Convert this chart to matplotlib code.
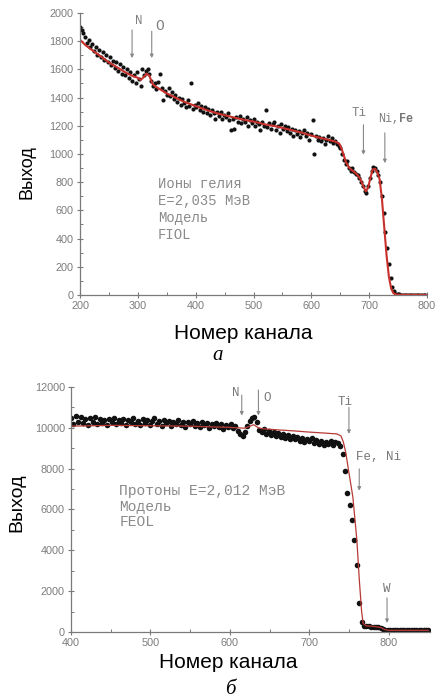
import matplotlib.pyplot as plt
import numpy as np
from matplotlib.ticker import AutoMinorLocator

plt.rcParams.update({'font.family': ['Liberation Sans', 'DejaVu Sans']})

# ---- panel a: helium ions ----
chan_a = np.arange(200, 800, 3)
yield_a = [
    1900, 1880, 1860, 1830, 1790, 1810, 1760, 1780, 1730, 1760,
    1700, 1740, 1690, 1720, 1670, 1700, 1650, 1690, 1630, 1660,
    1610, 1650, 1590, 1640, 1570, 1620, 1560, 1600, 1540, 1580,
    1520, 1560, 1500, 1580, 1530, 1480, 1600, 1560, 1590, 1600,
    1570, 1520, 1480, 1500, 1460, 1510, 1570, 1470, 1380, 1450,
    1420, 1470, 1410, 1440, 1390, 1420, 1370, 1400, 1350, 1390,
    1360, 1330, 1380, 1340, 1500, 1320, 1350, 1330, 1360, 1310,
    1340, 1300, 1330, 1290, 1320, 1280, 1310, 1290, 1250, 1300,
    1270, 1300, 1250, 1280, 1260, 1290, 1240, 1170, 1250, 1180,
    1260, 1230, 1270, 1220, 1250, 1230, 1260, 1200, 1240, 1220,
    1250, 1200, 1230, 1210, 1170, 1230, 1200, 1310, 1190, 1220,
    1180, 1210, 1230, 1170, 1200, 1150, 1210, 1180, 1200, 1160,
    1190, 1150, 1180, 1130, 1170, 1140, 1160, 1120, 1150, 1170,
    1130, 1150, 1100, 1140, 1240, 1000, 1130, 1100, 1120, 1090,
    1110, 1070, 1100, 1130, 1090, 1110, 1080, 1090, 1070, 1060,
    1040, 1000, 960, 930, 950, 900, 880, 900, 870, 860,
    850, 830, 800, 770, 740, 720, 770, 830, 880, 910,
    900, 880, 850, 800, 700, 580, 450, 330, 220, 120,
    60, 25, 10, 5, 4, 3, 3, 2, 2, 2,
    2, 2, 2, 2, 2, 2, 2, 2, 2, 2,
]
model_x_a = [200, 210, 220, 230, 240, 250, 260, 270, 280, 290, 300, 305, 310,
             315, 320, 325, 330, 340, 350, 360, 370, 380, 390, 400, 420, 440,
             460, 480, 500, 520, 540, 560, 580, 600, 620, 640, 648, 652, 656,
             660, 665, 670, 675, 680, 685, 690, 694, 698, 702, 706, 710, 714,
             718, 722, 726, 730, 734, 738, 742, 746, 750, 760, 800]
model_y_a = [1810, 1770, 1740, 1710, 1680, 1650, 1625, 1600, 1575, 1555, 1540,
             1525, 1545, 1570, 1555, 1500, 1480, 1455, 1430, 1410, 1390, 1370,
             1355, 1340, 1310, 1285, 1265, 1245, 1230, 1210, 1195, 1175, 1155,
             1130, 1110, 1090, 1075, 1040, 990, 940, 905, 885, 870, 850, 820,
             770, 735, 760, 830, 890, 895, 870, 820, 680, 480, 280, 130, 45,
             12, 4, 2, 1, 0]

# ---- panel b: protons ----
chan_b = np.arange(400, 851, 3)
yield_b = [
    10500, 10200, 10600, 10300, 10550, 10250, 10450, 10150, 10500, 10300,
    10550, 10200, 10450, 10250, 10400, 10150, 10450, 10300, 10500, 10200,
    10400, 10250, 10450, 10150, 10400, 10300, 10500, 10200, 10350, 10150,
    10450, 10250, 10400, 10150, 10350, 10500, 10200, 10350, 10100, 10400,
    10250, 10350, 10100, 10300, 10200, 10400, 10150, 10300, 10050, 10300,
    10200, 10350, 10100, 10250, 10050, 10300, 10150, 10250, 10000, 10200,
    10100, 10250, 10050, 10200, 9950, 10150, 10050, 10200, 10000, 10100,
    9850, 9700, 9600, 9800, 10100, 10350, 10500, 10550, 10300, 9900,
    9800, 9950, 9700, 9850, 9650, 9800, 9600, 9750, 9550, 9700,
    9500, 9650, 9450, 9600, 9450, 9550, 9350, 9500, 9300, 9450,
    9350, 9500, 9250, 9400, 9200, 9350, 9150, 9300, 9200, 9350,
    9150, 9300, 9250, 9100, 8700, 7900, 6800, 6200, 5500, 4500,
    3300, 1400, 500, 300, 280, 270, 260, 250, 240, 220,
    200, 150, 110, 90, 80, 80, 80, 80, 80, 80,
    80, 80, 80, 80, 80, 80, 80, 80, 80, 80,
    80,
]
model_x_b = [400, 450, 500, 550, 600, 610, 618, 624, 630, 636, 640, 660, 680,
             700, 720, 735, 740, 743, 746, 750, 755, 760, 763, 766, 768, 772,
             780, 790, 795, 800, 850]
model_y_b = [10080, 10120, 10100, 10080, 10020, 10000, 9980, 10060, 10150,
             10000, 9960, 9900, 9850, 9790, 9740, 9700, 9600, 9300, 8800, 7800,
             6600, 4500, 2600, 1000, 410, 300, 280, 220, 120, 80, 80]

GREY = '#7a7a7a'
MONO = 'Liberation Mono'
LBL = '#808080'


def style_axes(ax):
    for s in ['top', 'right']:
        ax.spines[s].set_visible(False)
    for s in ['left', 'bottom']:
        ax.spines[s].set_color(GREY)
        ax.spines[s].set_linewidth(0.9)
    ax.xaxis.set_minor_locator(AutoMinorLocator(2))
    ax.yaxis.set_minor_locator(AutoMinorLocator(2))
    ax.tick_params(which='major', direction='inout', length=5, width=0.8,
                   color=GREY, labelcolor='#7c7c7c', labelsize=7.8, pad=2)
    ax.tick_params(which='minor', direction='in', length=2.5, width=0.7,
                   color=GREY)


def arrow(ax, x, y0, y1):
    ax.annotate('', xy=(x, y1), xytext=(x, y0),
                arrowprops=dict(arrowstyle='-|>', color='#888888', lw=0.8,
                                mutation_scale=5, shrinkA=0, shrinkB=0))


fig = plt.figure(figsize=(4.36, 6.99), dpi=100)

# panel a
ax1 = fig.add_axes([0.1835, 0.578, 0.796, 0.4034])
ax1.plot(chan_a, yield_a, 'o', color='#111111', ms=3.0, mew=0)
ax1.plot(model_x_a, model_y_a, color='#c8302c', lw=1.5)
ax1.set_xlim(200, 800)
ax1.set_ylim(0, 2000)
ax1.set_xticks(range(200, 801, 100))
ax1.set_yticks(range(0, 2001, 200))
style_axes(ax1)

arrow(ax1, 290, 1880, 1680)
arrow(ax1, 324, 1870, 1680)
ax1.text(302, 1945, 'N', family=MONO, color=LBL, fontsize=9,
         ha='center', va='center')
ax1.text(338, 1905, 'O', family=MONO, color=LBL, fontsize=10.5,
         ha='center', va='center')
arrow(ax1, 690, 1207, 994)
arrow(ax1, 727, 1150, 935)
ax1.text(683, 1290, 'Ti', family=MONO, color=LBL, fontsize=9,
         ha='center', va='center')
ax1.text(716, 1247, 'Ni,', family=MONO, color=LBL, fontsize=8.5,
         ha='left', va='center')
ax1.text(752, 1247, 'Fe', family=MONO, color='#777777', fontsize=8.5,
         ha='left', va='center', weight='bold')
ax1.text(335, 840, 'Ионы гелия\nE=2,035 МэВ\nМодель\nFIOL', family=MONO,
         color='#8a8a8a', fontsize=10, ha='left', va='top', linespacing=1.3)

fig.text(27 / 436, 1 - 172 / 699, 'Выход', rotation=90, fontsize=13,
         ha='center', va='center')
fig.text(243 / 436, 1 - 333 / 699, 'Номер канала', fontsize=15,
         ha='center', va='center')
fig.text(218 / 436, 1 - 355 / 699, 'а', family='Liberation Serif',
         style='italic', fontsize=15, ha='center', va='center')

# panel b
ax2 = fig.add_axes([0.163, 0.0959, 0.823, 0.3505])
ax2.plot(chan_b, yield_b, 'o', color='#111111', ms=4.0, mew=0)
ax2.plot(model_x_b, model_y_b, color='#b83a36', lw=0.9)
ax2.set_xlim(400, 852)
ax2.set_ylim(0, 12000)
ax2.set_xticks(range(400, 801, 100))
ax2.set_yticks(range(0, 12001, 2000))
style_axes(ax2)

arrow(ax2, 615, 11600, 10600)
arrow(ax2, 636, 11850, 10600)
ax2.text(607, 11700, 'N', family=MONO, color='#777777', fontsize=9,
         ha='center', va='center')
ax2.text(647, 11450, 'O', family=MONO, color='#777777', fontsize=9,
         ha='center', va='center')
arrow(ax2, 750, 11000, 9700)
ax2.text(745, 11260, 'Ti', family=MONO, color='#777777', fontsize=9,
         ha='center', va='center')
arrow(ax2, 763, 7990, 6920)
ax2.text(759, 8560, 'Fe, Ni', family=MONO, color='#777777', fontsize=9,
         ha='left', va='center')
arrow(ax2, 798, 1670, 440)
ax2.text(798, 2080, 'W', family=MONO, color='#777777', fontsize=9,
         ha='center', va='center')
ax2.text(461, 7250, 'Протоны E=2,012 МэВ\nМодель\nFEOL', family=MONO,
         color='#8a8a8a', fontsize=10.5, ha='left', va='top',
         linespacing=1.15)

fig.text(17 / 436, 1 - 503 / 699, 'Выход', rotation=90, fontsize=14,
         ha='center', va='center')
fig.text(228 / 436, 1 - 663 / 699, 'Номер канала', fontsize=15,
         ha='center', va='center')
fig.text(230 / 436, 1 - 690 / 699, 'б', family='Liberation Serif',
         style='italic', fontsize=15, ha='center', va='center')

fig.savefig('out.png', dpi=100)
